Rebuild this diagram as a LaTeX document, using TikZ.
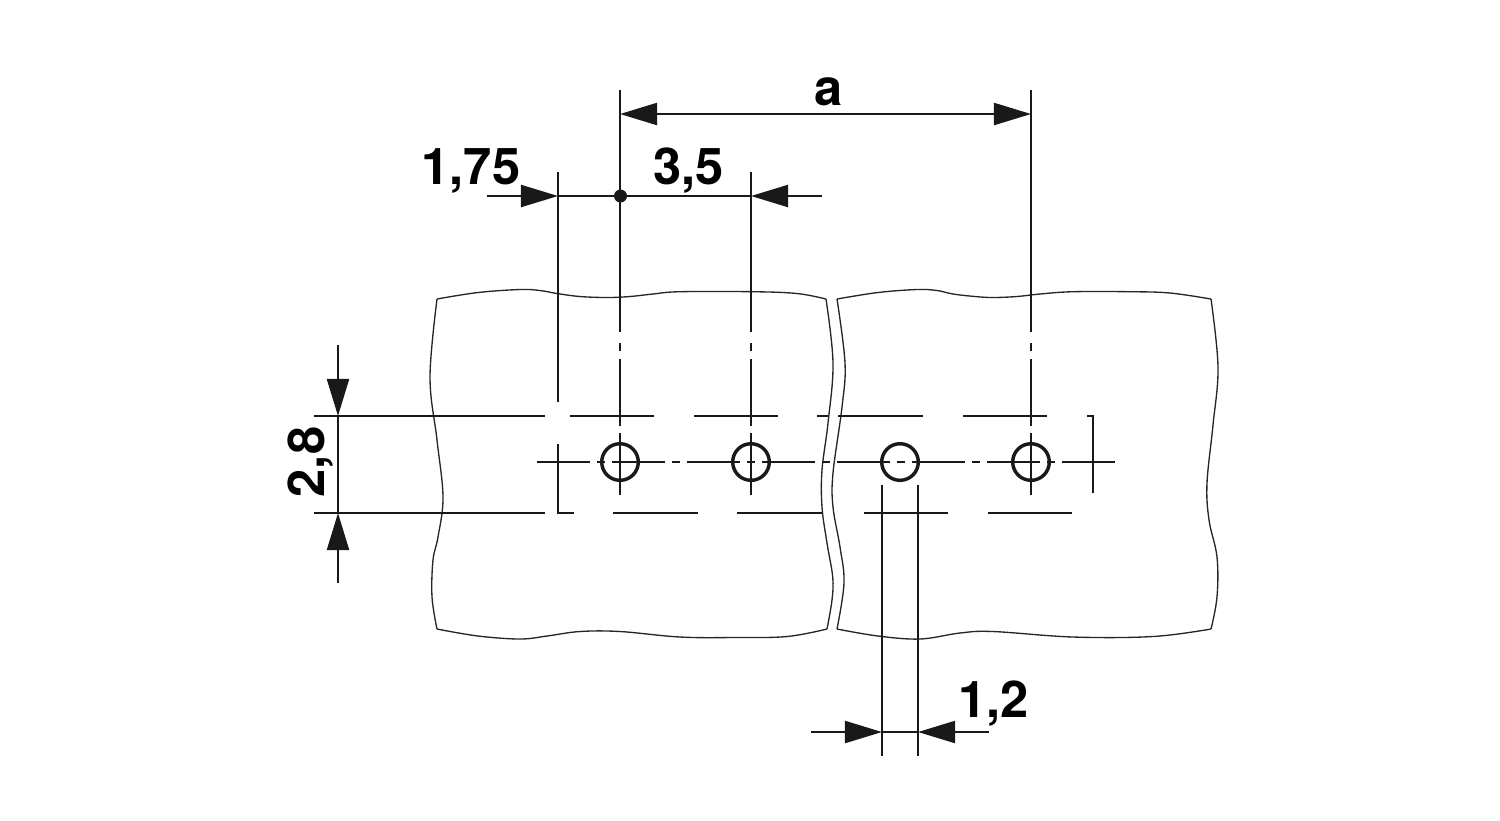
\documentclass[tikz,border=0pt]{standalone}
\usepackage{fontspec}
\setmainfont{TeX Gyre Heros}
\usetikzlibrary{arrows.meta}
\tikzset{
  outline/.style={line width=0.38pt,black!85},
  dimline/.style={line width=0.6pt,black!90},
  dimarrow/.style={dimline,-{Triangle[length=0.37cm,width=0.22cm]}},
  dimboth/.style={dimline,{Triangle[length=0.37cm,width=0.22cm]}-{Triangle[length=0.37cm,width=0.22cm]}},
  centerline/.style={dimline,dash pattern=on 0.53cm off 0.07cm on 0.08cm off 0.07cm},
  hole/.style={line width=0.98pt,black!90},
  dimtext/.style={inner sep=0pt,anchor=base,font=\fontsize{14.4}{15}\bfseries}
}
\begin{document}
\begin{tikzpicture}[x=0.01cm,y=-0.01cm]
        \useasboundingbox (0,0) rectangle (1500,820);
        \coordinate (hole1)     at ( 620, 462);
        \coordinate (hole2)     at ( 751, 462);
        \coordinate (hole3)     at ( 900, 462);
        \coordinate (hole4)     at (1031, 462);
        \coordinate (cornerL)   at ( 558, 513);
        \coordinate (cornerR)   at (1093, 416);
        \coordinate (pinL)      at ( 882, 513);
        \coordinate (pinR)      at ( 918, 513);
        \coordinate (dimA)      at ( 620, 114);
        \coordinate (dimB)      at (1031, 114);
        \coordinate (dimC)      at ( 558, 196);
        \coordinate (dimD)      at ( 751, 196);
        \coordinate (dimE)      at ( 338, 416);
        \coordinate (dimF)      at ( 338, 513);
        \coordinate (dimG)      at ( 882, 732);
        \coordinate (dimH)      at ( 918, 732);
        % left block
        \draw[outline] plot[smooth,tension=0.6] coordinates {(437,299) (478,292.5) (520,289.5) (540,290.5) (557,293.5) (580,296.5) (607,297.5) (630,296.5) (653,294) (680,291.7) (753,291.7) (797,293.5) (826,299)};
        \draw[outline] plot[smooth,tension=0.6] coordinates {(826,299) (833,363) (828,423) (822,470) (822,507) (827,543) (832.7,577) (832,600) (827,629)};
        \draw[outline] plot[smooth,tension=0.6] coordinates {(827,629) (787,636.5) (735,637.5) (680,637) (620,631.5) (580,631.5) (547,636) (520,639) (478,636) (437,629)};
        \draw[outline] plot[smooth,tension=0.6] coordinates {(437,629) (432,597) (433,560) (438,537) (443,497) (437,440) (430,377) (437,299)};
        % right block
        \draw[outline] plot[smooth,tension=0.6] coordinates {(837,299) (878,292.5) (917,289.5) (937,290.5) (953,294) (975,296.5) (993,297.5) (1017,296.5) (1040,294) (1073,291.7) (1130,291.7) (1170,293) (1211,299)};
        \draw[outline] plot[smooth,tension=0.6] coordinates {(1211,299) (1218,367) (1213,425) (1207,483) (1209,520) (1217,557) (1217,597) (1211,629)};
        \draw[outline] plot[smooth,tension=0.6] coordinates {(1211,629) (1153,636.5) (1073,637) (993,631.5) (960,633) (920,639) (878,636) (837,629)};
        \draw[outline] plot[smooth,tension=0.6] coordinates {(837,629) (844,583) (840,547) (833,507) (833,473) (842,407) (845,363) (837,299)};
        % holes
        \draw[hole] (hole1) circle (18.3);
        \draw[hole] (hole2) circle (18.3);
        \draw[hole] (hole3) circle (18.3);
        \draw[hole] (hole4) circle (18.3);
        \draw[centerline] (537,462) -- (1116,462);
        % vertical axes
        \draw[dimline] (620,90) -- (620,332);
        \draw[dimline] (620,343) -- (620,351);
        \draw[dimline] (620,359) -- (620,426);
        \draw[dimline] (620,433) -- (620,495);
        \draw[dimline] (751,172) -- (751,332);
        \draw[dimline] (751,343) -- (751,351);
        \draw[dimline] (751,359) -- (751,426);
        \draw[dimline] (751,433) -- (751,495);
        \draw[dimline] (1031,90) -- (1031,332);
        \draw[dimline] (1031,343) -- (1031,351);
        \draw[dimline] (1031,359) -- (1031,426);
        \draw[dimline] (1031,433) -- (1031,495);
        % slot edges
        \draw[dimline] (314,416) -- (545,416);
        \draw[dimline] (570,416) -- (654,416);
        \draw[dimline] (694,416) -- (778,416);
        \draw[dimline] (817,416) -- (828,416);
        \draw[dimline] (838,416) -- (923,416);
        \draw[dimline] (963,416) -- (1047,416);
        \draw[dimline] (314,513) -- (545,513);
        \draw[dimline] (613,513) -- (698,513);
        \draw[dimline] (737,513) -- (822,513);
        \draw[dimline] (864,513) -- (948,513);
        \draw[dimline] (988,513) -- (1072,513);
        \draw[dimline] (558,444) -- (cornerL) -- (573.5,513);
        \draw[dimline] (1087,416) -- (cornerR) -- (1093,493);
        % dimensions
        \draw[dimline] (558,172) -- (558,402);
        \draw[dimline] (pinL |- 0,485) -- (pinL) -- (pinL |- 0,756);
        \draw[dimline] (pinR |- 0,485) -- (pinR) -- (pinR |- 0,756);
        \draw[dimboth] (dimA) -- (dimB);
        \draw[dimarrow] (487,196) -- (dimC);
        \draw[dimarrow] (822,196) -- (dimD);
        \draw[dimline] (dimC) -- (dimD);
        \fill[black!90] (620.5,196) circle (6.5);
        \draw[dimarrow] (338,345) -- (dimE);
        \draw[dimarrow] (338,583) -- (dimF);
        \draw[dimline] (dimE) -- (dimF);
        \draw[dimarrow] (811,732) -- (dimG);
        \draw[dimarrow] (989,732) -- (dimH);
        \draw[dimline] (dimG) -- (dimH);
        % labels
        \node[dimtext] (labelA) at (829,105) {a};
        \node[dimtext] (labelB) at (471,184) {1,75};
        \node[dimtext] (labelC) at (688.5,184) {3,5};
        \node[dimtext] (labelD) at (993.5,717) {1,2};
        \node[dimtext,rotate=90] (labelE) at (324.5,462) {2,8};
\end{tikzpicture}
\end{document}
